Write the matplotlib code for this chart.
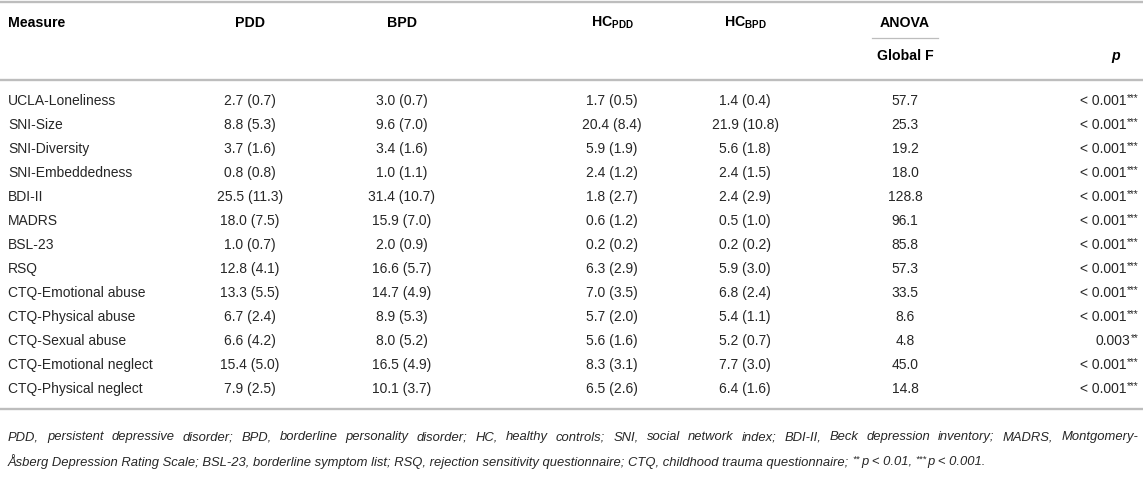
import matplotlib
matplotlib.use("Agg")
import matplotlib.pyplot as plt

# datos de la tabla: media (sd) por grupo
measures = ["UCLA-Loneliness", "SNI-Size", "SNI-Diversity", "SNI-Embeddedness",
            "BDI-II", "MADRS", "BSL-23", "RSQ", "CTQ-Emotional abuse",
            "CTQ-Physical abuse", "CTQ-Sexual abuse", "CTQ-Emotional neglect",
            "CTQ-Physical neglect"]
pdd_mean = [2.7, 8.8, 3.7, 0.8, 25.5, 18.0, 1.0, 12.8, 13.3, 6.7, 6.6, 15.4, 7.9]
pdd_sd = [0.7, 5.3, 1.6, 0.8, 11.3, 7.5, 0.7, 4.1, 5.5, 2.4, 4.2, 5.0, 2.5]
bpd_mean = [3.0, 9.6, 3.4, 1.0, 31.4, 15.9, 2.0, 16.6, 14.7, 8.9, 8.0, 16.5, 10.1]
bpd_sd = [0.7, 7.0, 1.6, 1.1, 10.7, 7.0, 0.9, 5.7, 4.9, 5.3, 5.2, 4.9, 3.7]
hcpdd_mean = [1.7, 20.4, 5.9, 2.4, 1.8, 0.6, 0.2, 6.3, 7.0, 5.7, 5.6, 8.3, 6.5]
hcpdd_sd = [0.5, 8.4, 1.9, 1.2, 2.7, 1.2, 0.2, 2.9, 3.5, 2.0, 1.6, 3.1, 2.6]
hcbpd_mean = [1.4, 21.9, 5.6, 2.4, 2.4, 0.5, 0.2, 5.9, 6.8, 5.4, 5.2, 7.7, 6.4]
hcbpd_sd = [0.4, 10.8, 1.8, 1.5, 2.9, 1.0, 0.2, 3.0, 2.4, 1.1, 0.7, 3.0, 1.6]
global_f = [57.7, 25.3, 19.2, 18.0, 128.8, 96.1, 85.8, 57.3, 33.5, 8.6, 4.8, 45.0, 14.8]
p_text = ["< 0.001"] * 10 + ["0.003"] + ["< 0.001"] * 2
p_stars = ["***"] * 10 + ["**"] + ["***"] * 2

foot1 = ("PDD, persistent depressive disorder; BPD, borderline personality disorder; HC, healthy controls; "
         "SNI, social network index; BDI-II, Beck depression inventory; MADRS, Montgomery-")
foot2 = [("Åsberg Depression Rating Scale; BSL-23, borderline symptom list; RSQ, rejection sensitivity "
          "questionnaire; CTQ, childhood trauma questionnaire; ", False),
         ("**", True), ("p < 0.01, ", False), ("***", True), ("p < 0.001.", False)]

plt.rcParams["font.family"] = ["Liberation Sans", "DejaVu Sans"]
plt.rcParams["mathtext.fontset"] = "custom"
plt.rcParams["mathtext.rm"] = "Liberation Sans"
plt.rcParams["mathtext.it"] = "Liberation Sans:italic"
plt.rcParams["mathtext.bf"] = "Liberation Sans:bold"

W, H = 1143, 489
fig = plt.figure(figsize=(W / 100, H / 100), dpi=100)
ax = fig.add_axes([0, 0, 1, 1])
ax.set_xlim(0, W)
ax.set_ylim(H, 0)
ax.axis("off")
rend = fig.canvas.get_renderer()


def width(t):
    return t.get_window_extent(rend).width  # pixeles == unidades de datos aqui


fs = 10
fs_head = 10.2
fs_foot = 9.4
txt = "#262626"
line_c = "#bdbdbd"

col_x = [250, 402, 612, 745, 905]
p_right = 1139

# encabezados
ax.text(8, 23, "Measure", fontsize=fs_head, fontweight="bold", va="center")
ax.text(col_x[0], 23, "PDD", fontsize=fs_head, fontweight="bold", ha="center", va="center")
ax.text(col_x[1], 23, "BPD", fontsize=fs_head, fontweight="bold", ha="center", va="center")
ax.text(col_x[2], 23, r"$\mathbf{HC}_{\mathbf{PDD}}$", fontsize=fs_head, ha="center", va="center")
ax.text(col_x[3], 23, r"$\mathbf{HC}_{\mathbf{BPD}}$", fontsize=fs_head, ha="center", va="center")
ax.text(col_x[4], 23, "ANOVA", fontsize=fs_head, fontweight="bold", ha="center", va="center")
ax.plot([872, 938], [39, 39], color=line_c, lw=0.9)
ax.text(col_x[4], 56, "Global F", fontsize=fs_head, fontweight="bold", ha="center", va="center")
ax.text(1116, 56, "p", fontsize=fs_head, fontweight="bold", style="italic", ha="center", va="center")

for y in [3, 81, 410]:
    ax.plot([0, W], [y, y], color=line_c, lw=1.7, solid_capstyle="butt")

groups = [(pdd_mean, pdd_sd), (bpd_mean, bpd_sd), (hcpdd_mean, hcpdd_sd), (hcbpd_mean, hcbpd_sd)]
for i, m in enumerate(measures):
    y = 101 + 24 * i
    ax.text(8, y, m, fontsize=fs, color=txt, va="center")
    for j, (mean, sd) in enumerate(groups):
        ax.text(col_x[j], y, f"{mean[i]:.1f} ({sd[i]:.1f})", fontsize=fs, color=txt,
                ha="center", va="center")
    ax.text(col_x[4], y, f"{global_f[i]:.1f}", fontsize=fs, color=txt, ha="center", va="center")
    st = ax.text(p_right, y - 3, p_stars[i], fontsize=7.3, color=txt, ha="right", va="center")
    ax.text(p_right - width(st) - 0.5, y, p_text[i], fontsize=fs, color=txt, ha="right", va="center")

# nota al pie, primera linea justificada
words = foot1.split(" ")
wt = [ax.text(0, 437, w, fontsize=fs_foot, color=txt, style="italic", va="center") for w in words]
total = sum(width(t) for t in wt)
gap = (1138 - 8 - total) / (len(words) - 1)
x = 8
for t in wt:
    t.set_x(x)
    x += width(t) + gap

x = 8
for s, sup in foot2:
    if sup:
        t = ax.text(x, 459, s, fontsize=6.8, color=txt, style="italic", va="center")
    else:
        t = ax.text(x, 462, s, fontsize=fs_foot, color=txt, style="italic", va="center")
    x += width(t) + (0.5 if sup else 0)

fig.savefig("out.png", dpi=100)
